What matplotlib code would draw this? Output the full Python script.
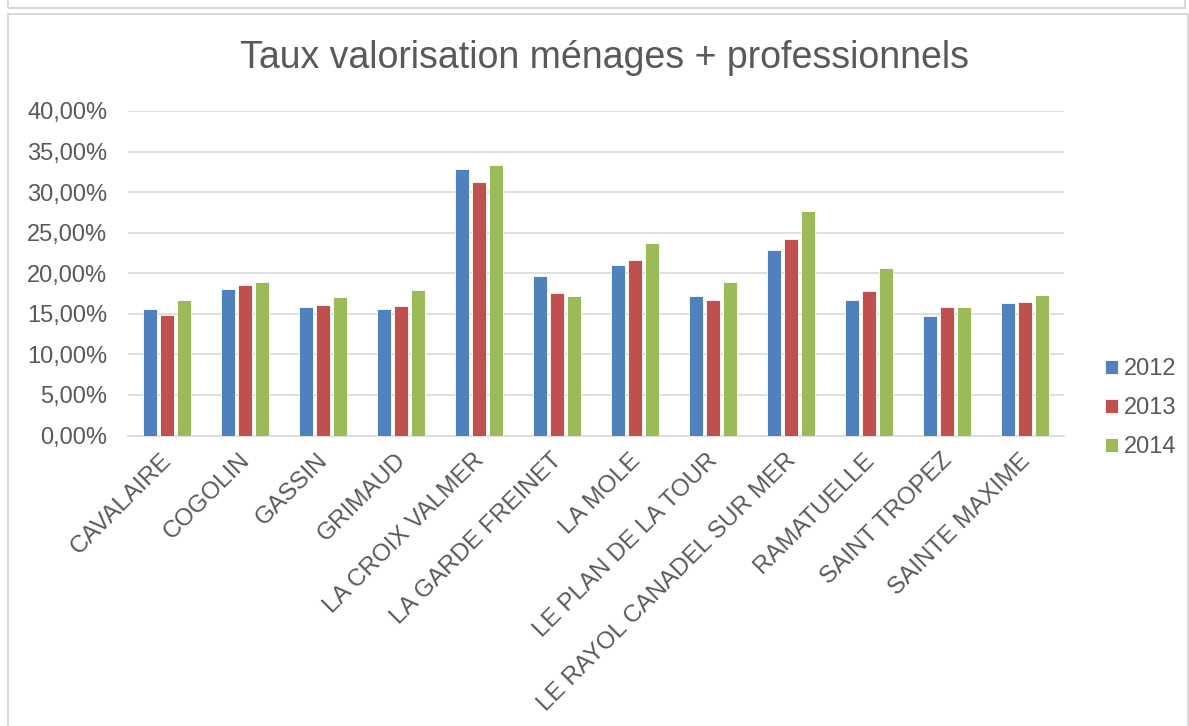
#!/usr/bin/env python3
"""Taux valorisation ménages + professionnels, par commune (2012-2014)."""
import matplotlib
matplotlib.use("Agg")
import matplotlib.pyplot as plt
import numpy as np
from matplotlib.patches import Rectangle
from matplotlib.ticker import FuncFormatter

COMMUNES = [
    "CAVALAIRE", "COGOLIN", "GASSIN", "GRIMAUD", "LA CROIX VALMER",
    "LA GARDE FREINET", "LA MOLE", "LE PLAN DE LA TOUR",
    "LE RAYOL CANADEL SUR MER", "RAMATUELLE", "SAINT TROPEZ", "SAINTE MAXIME",
]
YEARS = ["2012", "2013", "2014"]
TAUX_2012 = [15.6, 18.0, 15.8, 15.6, 32.9, 19.6, 21.0, 17.2, 22.9, 16.7, 14.7, 16.3]
TAUX_2013 = [14.9, 18.6, 16.1, 16.0, 31.2, 17.6, 21.6, 16.7, 24.2, 17.8, 15.8, 16.5]
TAUX_2014 = [16.7, 18.9, 17.1, 17.9, 33.4, 17.2, 23.7, 18.9, 27.7, 20.6, 15.8, 17.3]
COLORS = ["#4F81BD", "#C0504D", "#9BBB59"]

TEXT = "#595959"
GRID = "#D9D9D9"

plt.rcParams["font.family"] = ["Liberation Sans", "DejaVu Sans"]

W, H = 1189, 726
fig = plt.figure(figsize=(W / 100, H / 100), dpi=100)

# chart frames (top strip + chart border), in pixel coords
fig.add_artist(Rectangle((8 / W, 1 - 8 / H), 1177 / W, 20 / H, transform=fig.transFigure,
                         fill=False, edgecolor=GRID, linewidth=1.5))
fig.add_artist(Rectangle((8 / W, -0.05), 1180 / W, 1.05 - 14 / H, transform=fig.transFigure,
                         fill=False, edgecolor=GRID, linewidth=1.5))

ax = fig.add_axes([128 / W, 1 - 435.5 / H, (1064 - 128) / W, (435.5 - 111) / H])

x = np.arange(len(COMMUNES))
width = 0.18
step = 0.222
for i, (year, vals) in enumerate(zip(YEARS, [TAUX_2012, TAUX_2013, TAUX_2014])):
    ax.bar(x + (i - 1) * step, vals, width, color=COLORS[i], label=year,
           edgecolor="white", linewidth=0.6, zorder=3)

ax.set_xlim(-0.5, len(COMMUNES) - 0.5)
ax.set_ylim(0, 40)
ax.set_yticks(np.arange(0, 41, 5))
ax.yaxis.set_major_formatter(FuncFormatter(lambda v, _: f"{v:.2f}%".replace(".", ",")))
ax.grid(axis="y", color=GRID, linewidth=1.2, zorder=0)
for s in ["top", "left", "right"]:
    ax.spines[s].set_visible(False)
ax.spines["bottom"].set_color(GRID)
ax.spines["bottom"].set_linewidth(1.2)
ax.tick_params(axis="both", length=0, colors=TEXT, labelsize=17)
ax.tick_params(axis="y", pad=15)
# label anchors nudged left so the glyph corner sits at the category centre
ax.set_xticks(x - 0.08)
ax.set_xticklabels(COMMUNES, rotation=45, ha="right", va="top",
                   rotation_mode="anchor", fontsize=17.5)
ax.tick_params(axis="x", pad=10)

fig.text(605 / W, 1 - 58 / H, "Taux valorisation ménages + professionnels",
         ha="center", va="center", fontsize=27, color=TEXT)

leg = ax.legend(loc="center left", bbox_to_anchor=(1105 / W, 1 - 408 / H),
                bbox_transform=fig.transFigure, frameon=False, fontsize=17,
                handlelength=0.55, handleheight=0.55, handletextpad=0.25,
                labelspacing=0.72, borderpad=0, borderaxespad=0)
for t in leg.get_texts():
    t.set_color(TEXT)

fig.savefig("out.png", dpi=100)
